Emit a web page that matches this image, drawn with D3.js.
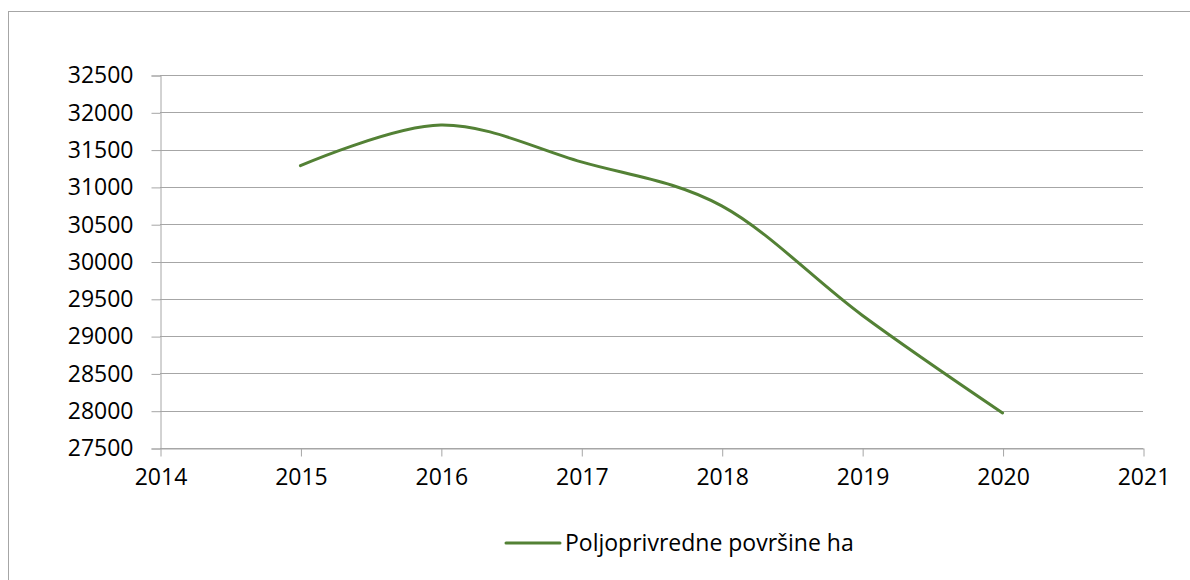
<!DOCTYPE html>
<html>
<head>
<meta charset="utf-8">
<script src="https://cdn.jsdelivr.net/npm/d3@7"></script>
<style>
  html, body { margin: 0; padding: 0; background: #fff; }
  svg text { font-family: "Open Sans", Lato, sans-serif; fill: #000; }
</style>
</head>
<body>
<svg id="chart" width="1190" height="580"></svg>
<script>
// data
const years = [2015, 2016, 2017, 2018, 2019, 2020];
const areaHa = [31285, 31830, 31335, 30745, 29280, 27970];
const seriesName = 'Poljoprivredne površine ha';
const yTicks = [27500, 28000, 28500, 29000, 29500, 30000, 30500, 31000, 31500, 32000, 32500];
const xTicks = [2014, 2015, 2016, 2017, 2018, 2019, 2020, 2021];

const svg = d3.select('#chart');
const plot = {left: 160, right: 1143, top: 75, bottom: 448};
const fontSize = 23;
const gridColor = '#a6a6a6';
const lineColor = '#538135';

// outer chart frame (right and bottom fall outside the picture)
svg.append('rect')
    .attr('x', 8.5).attr('y', 11.5)
    .attr('width', 1200).attr('height', 600)
    .attr('fill', 'none').attr('stroke', gridColor).attr('stroke-width', 1);

const x = d3.scaleLinear().domain([2014, 2021]).range([plot.left, plot.right]);
const y = d3.scaleLinear().domain([27500, 32500]).range([plot.bottom, plot.top]);

// horizontal gridlines
svg.append('g')
    .selectAll('line')
    .data(yTicks)
    .join('line')
    .attr('x1', plot.left).attr('x2', plot.right)
    .attr('y1', d => Math.round(y(d)) + 0.5).attr('y2', d => Math.round(y(d)) + 0.5)
    .attr('stroke', gridColor).attr('stroke-width', 1);

// y axis
const yAxis = svg.append('g')
    .attr('transform', `translate(${plot.left + 0.5},0.5)`)
    .call(d3.axisLeft(y).tickValues(yTicks).tickSize(9).tickPadding(18).tickFormat(d3.format('d')));
yAxis.select('.domain').attr('stroke', gridColor);
yAxis.selectAll('.tick line').attr('stroke', gridColor);
yAxis.selectAll('text').style('font-size', fontSize + 'px').attr('fill', '#000');

// x axis
const xAxis = svg.append('g')
    .attr('transform', `translate(0.5,${Math.round(plot.bottom) + 0.5})`)
    .call(d3.axisBottom(x).tickValues(xTicks).tickSize(8).tickSizeOuter(0).tickPadding(12).tickFormat(d3.format('d')));
xAxis.select('.domain').attr('stroke', gridColor);
xAxis.selectAll('.tick line').attr('stroke', gridColor);
xAxis.selectAll('text').style('font-size', fontSize + 'px').attr('fill', '#000');

// smoothed series line
const line = d3.line()
    .x((d, i) => x(years[i]))
    .y(d => y(d))
    .curve(d3.curveCardinal.tension(0));

svg.append('path')
    .datum(areaHa)
    .attr('d', line)
    .attr('fill', 'none')
    .attr('stroke', lineColor)
    .attr('stroke-width', 3)
    .attr('stroke-linecap', 'round');

// legend
const legend = svg.append('g').attr('transform', 'translate(506,543)');
legend.append('line')
    .attr('x1', 0).attr('x2', 54)
    .attr('stroke', lineColor).attr('stroke-width', 3).attr('stroke-linecap', 'round');
legend.append('text')
    .attr('x', 59).attr('y', 0).attr('dy', '0.35em')
    .style('font-size', fontSize + 'px')
    .text(seriesName);
</script>
</body>
</html>
